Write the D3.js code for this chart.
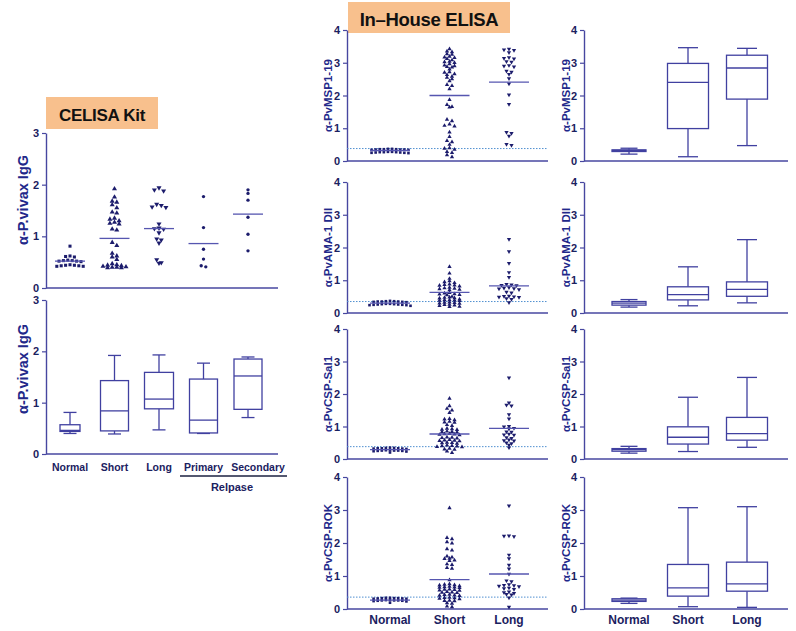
<!DOCTYPE html>
<html><head><meta charset="utf-8">
<script src="https://cdn.jsdelivr.net/npm/d3@7"></script>
<style>body{margin:0;background:#fff}</style></head>
<body><svg id="c" width="796" height="631"></svg>
<script>
// ---------------- DATA ----------------
const celisaGroups = ["Normal","Short","Long","Primary","Secondary"];
const celisaTicks = [0,1,2,3];
const celisaNormal = [0.81,0.62,0.61,0.60,0.54,0.53,0.53,0.52,0.52,0.51,0.45,0.44,0.44,0.43,0.43,0.42,0.42];
const celisaShort = [1.92,1.76,1.68,1.66,1.61,1.55,1.47,1.45,1.35,1.33,1.30,1.27,1.25,1.24,1.14,1.12,0.88,0.82,0.67,0.62,0.60,0.55,0.47,0.45,0.44,0.43,0.42,0.41,0.40,0.40,0.39,0.39];
const celisaLong = [1.94,1.90,1.88,1.62,1.60,1.57,1.56,1.24,1.16,1.15,1.14,1.07,0.95,0.93,0.87,0.55,0.49,0.48];
const celisaPrimary = [1.77,1.17,0.75,0.56,0.43,0.41];
const celisaSecondary = [1.90,1.83,1.70,1.37,1.04,0.72];
const celisaMeans = [0.52,0.96,1.15,0.86,1.43];
// box stats: [min, q1, median, q3, max]
const celisaBox = [
  [0.40,0.44,0.46,0.57,0.81],
  [0.39,0.45,0.84,1.43,1.92],
  [0.47,0.88,1.07,1.59,1.93],
  [0.40,0.41,0.66,1.46,1.77],
  [0.71,0.87,1.52,1.85,1.89]
];

const ihGroups = ["Normal","Short","Long"];
const ihTicks = [0,1,2,3,4];
const ihLabels = ["α-PvMSP1-19","α-PvAMA-1 DII","α-PvCSP-Sal1","α-PvCSP-ROK"];
const ihCutoffs = [0.38,0.35,0.38,0.36];
const ihMeans = [[0.32,2.00,2.41],[0.30,0.63,0.83],[0.29,0.77,0.94],[0.27,0.89,1.06]];

const msp1Normal = [0.37,0.37,0.36,0.36,0.36,0.35,0.35,0.35,0.34,0.34,0.28,0.28,0.27,0.27,0.27,0.26,0.26,0.25,0.25,0.24];
const msp1Short = [3.42,3.35,3.33,3.27,3.25,3.19,3.17,3.15,3.12,3.08,3.04,3.02,3.00,2.96,2.92,2.90,2.88,2.86,2.80,2.72,2.70,2.66,2.63,2.58,2.55,2.50,2.44,2.33,2.30,2.20,1.87,1.72,1.66,1.64,1.27,1.22,1.12,1.08,1.06,0.88,0.74,0.62,0.58,0.50,0.40,0.38,0.35,0.28,0.25,0.18,0.12];
const msp1Long = [3.42,3.40,3.38,3.31,3.16,3.14,3.12,3.04,3.02,2.92,2.90,2.88,2.75,2.72,2.65,2.52,2.36,2.02,1.73,0.88,0.85,0.76,0.51,0.48];

const amaNormal = [0.37,0.36,0.36,0.35,0.35,0.35,0.34,0.34,0.33,0.28,0.28,0.27,0.27,0.26,0.26,0.25,0.25,0.24,0.24,0.22];
const amaShort = [1.41,1.21,1.05,0.98,0.95,0.92,0.88,0.86,0.85,0.84,0.82,0.78,0.76,0.75,0.73,0.72,0.70,0.62,0.60,0.58,0.57,0.56,0.55,0.50,0.48,0.47,0.46,0.45,0.42,0.40,0.40,0.39,0.38,0.37,0.33,0.32,0.31,0.30,0.29,0.26,0.25,0.24,0.22,0.20,0.19];
const amaLong = [2.25,1.88,1.52,1.24,1.09,0.88,0.86,0.85,0.84,0.78,0.76,0.75,0.74,0.72,0.64,0.62,0.52,0.51,0.50,0.49,0.48,0.44,0.42,0.32];

const salNormal = [0.35,0.34,0.34,0.33,0.33,0.33,0.32,0.32,0.31,0.27,0.27,0.26,0.26,0.26,0.25,0.25,0.24,0.23,0.20];
const salShort = [1.86,1.63,1.55,1.50,1.42,1.24,1.22,1.20,1.15,1.13,1.12,1.05,1.02,0.94,0.92,0.91,0.90,0.85,0.84,0.83,0.82,0.78,0.77,0.76,0.75,0.74,0.67,0.66,0.65,0.64,0.59,0.58,0.57,0.56,0.55,0.51,0.50,0.49,0.48,0.42,0.41,0.40,0.39,0.38,0.37,0.32,0.30,0.29,0.24,0.19];
const salLong = [2.50,1.73,1.66,1.64,1.37,1.24,1.01,0.99,0.95,0.93,0.84,0.83,0.77,0.75,0.74,0.66,0.64,0.59,0.57,0.56,0.50,0.48,0.43,0.35];

const rokNormal = [0.34,0.34,0.33,0.33,0.33,0.32,0.32,0.31,0.31,0.27,0.27,0.26,0.26,0.26,0.25,0.25,0.24,0.23,0.19];
const rokShort = [3.06,2.16,2.12,2.03,1.99,1.82,1.78,1.60,1.57,1.53,1.52,1.48,1.46,1.36,1.34,1.25,1.23,0.88,0.76,0.74,0.73,0.72,0.70,0.68,0.67,0.66,0.65,0.64,0.60,0.59,0.58,0.57,0.56,0.52,0.51,0.50,0.49,0.44,0.43,0.42,0.41,0.40,0.35,0.34,0.33,0.32,0.30,0.26,0.25,0.24,0.18,0.17,0.08,0.06];
const rokLong = [3.13,2.22,2.21,2.20,1.64,1.53,1.33,1.22,1.06,0.86,0.83,0.74,0.72,0.71,0.70,0.68,0.64,0.62,0.60,0.52,0.50,0.48,0.45,0.43,0.34,0.06];

const ihBox = [
  [[0.21,0.29,0.32,0.34,0.39],[0.13,0.99,2.40,2.98,3.46],[0.47,1.89,2.84,3.23,3.44]],
  [[0.18,0.24,0.30,0.35,0.41],[0.22,0.40,0.56,0.80,1.41],[0.31,0.51,0.72,0.95,2.24]],
  [[0.18,0.24,0.29,0.32,0.39],[0.23,0.46,0.67,0.99,1.90],[0.36,0.58,0.78,1.28,2.51]],
  [[0.17,0.23,0.27,0.31,0.33],[0.07,0.39,0.64,1.35,3.07],[0.05,0.54,0.76,1.42,3.10]]
];
const ihScatter = [
  [msp1Normal,msp1Short,msp1Long],
  [amaNormal,amaShort,amaLong],
  [salNormal,salShort,salLong],
  [rokNormal,rokShort,rokLong]
];
const celisaScatter = [celisaNormal,celisaShort,celisaLong,celisaPrimary,celisaSecondary];

// ---------------- STYLE ----------------
const AXIS="#4747a0", TXT="#1b2160", MARK="#1c1c6c", MEANC="#5656b0", CUT="#4f8fd0", BOXC="#4040a0";
const FONT="Liberation Sans, Arial, sans-serif";
const svg = d3.select("#c");

function drawYAxis(y, x, ticks, labelText, labelX, fs, labelY) {
  const ax = d3.axisLeft(y).tickValues(ticks).tickSize(4).tickSizeOuter(0).tickPadding(3).tickFormat(d3.format("d"));
  const a = svg.append("g").attr("transform",`translate(${x},0)`).call(ax);
  a.select(".domain").attr("stroke",AXIS).attr("stroke-width",1.4);
  a.selectAll(".tick line").attr("stroke",AXIS).attr("stroke-width",1.2);
  a.selectAll(".tick text").attr("fill",TXT).attr("font-weight","bold").attr("font-size",11).attr("font-family",FONT);
  const r = y.range();
  const cy = labelY !== undefined ? labelY : (r[0]+r[1])/2;
  svg.append("text").attr("transform",`translate(${labelX},${cy}) rotate(-90)`)
    .attr("text-anchor","middle").attr("dominant-baseline","central")
    .attr("fill","#22288a").attr("font-weight","bold").attr("font-size",fs).attr("font-family",FONT)
    .text(labelText);
}
function drawXLine(y, x0, x1) {
  svg.append("line").attr("x1",x0).attr("x2",x1).attr("y1",y(0)).attr("y2",y(0))
    .attr("stroke",AXIS).attr("stroke-width",1.4);
}
// beeswarm layout: values close in y share a row, spread center-out
function swarm(vals, y, cx, dx, tol) {
  const s = vals.slice().sort((a,b)=>b-a);
  const rows = [];
  s.forEach(v => {
    const py = y(v);
    const last = rows[rows.length-1];
    if (last && Math.abs(last.py0 - py) < tol) last.items.push(v);
    else rows.push({py0:py, items:[v]});
  });
  const out = [];
  rows.forEach(r => {
    const n = r.items.length;
    const slots = d3.range(n).map(i => i-(n-1)/2).sort((a,b)=>Math.abs(a)-Math.abs(b) || a-b);
    r.items.forEach((v,i) => out.push({x: cx + slots[i]*dx, y: y(v)}));
  });
  return out;
}
const symTypes = {
  Normal: [d3.symbolSquare,0],
  Short: [d3.symbolTriangle,0],
  Long: [d3.symbolTriangle,180],
  Primary: [d3.symbolCircle,0],
  Secondary: [d3.symbolCircle,0]
};
function drawScatter(groups, data, means, x, y, size, dxs, tol, meanW) {
  groups.forEach((gname,gi) => {
    const pts = swarm(data[gi], y, x(gname), dxs[gi], tol);
    const [type,rot] = symTypes[gname];
    const sz = type===d3.symbolSquare ? size*0.85 : (type===d3.symbolCircle ? size*0.8 : size);
    svg.append("g").selectAll("path").data(pts).join("path")
      .attr("d", d3.symbol().type(type).size(sz))
      .attr("transform", d => `translate(${d.x},${d.y}) rotate(${rot})`)
      .attr("fill", MARK);
    svg.append("line").attr("x1",x(gname)-meanW/2).attr("x2",x(gname)+meanW/2)
      .attr("y1",y(means[gi])).attr("y2",y(means[gi]))
      .attr("stroke",MEANC).attr("stroke-width",1.3);
  });
}
function drawBoxes(groups, stats, x, y, widths, capW) {
  groups.forEach((gname,gi) => {
    const [mn,q1,md,q3,mx] = stats[gi];
    const cx = x(gname), w = widths[gi];
    const g = svg.append("g").attr("stroke",BOXC).attr("stroke-width",1.3).attr("fill","none");
    g.append("line").attr("x1",cx).attr("x2",cx).attr("y1",y(mx)).attr("y2",y(q3));
    g.append("line").attr("x1",cx).attr("x2",cx).attr("y1",y(q1)).attr("y2",y(mn));
    g.append("line").attr("x1",cx-capW[gi]/2).attr("x2",cx+capW[gi]/2).attr("y1",y(mx)).attr("y2",y(mx));
    g.append("line").attr("x1",cx-capW[gi]/2).attr("x2",cx+capW[gi]/2).attr("y1",y(mn)).attr("y2",y(mn));
    g.append("rect").attr("x",cx-w/2).attr("y",y(q3)).attr("width",w).attr("height",y(q1)-y(q3)).attr("fill","#fff");
    g.append("line").attr("x1",cx-w/2).attr("x2",cx+w/2).attr("y1",y(md)).attr("y2",y(md));
  });
}
function catLabels(groups, x, yPos, fs, shifts) {
  svg.append("g").selectAll("text").data(groups).join("text")
    .attr("x", (d,i)=>x(d) + (shifts ? shifts[i] : 0)).attr("y", yPos).attr("text-anchor","middle")
    .attr("fill",TXT).attr("font-weight","bold").attr("font-size",fs).attr("font-family",FONT)
    .text(d=>d);
}
function titleBox(x, y, w, h, text, fs, base) {
  svg.append("rect").attr("x",x).attr("y",y).attr("width",w).attr("height",h).attr("fill","#f8c08d");
  svg.append("text").attr("x",x+w/2).attr("y",base).attr("text-anchor","middle")
    .attr("font-weight","bold").attr("font-size",fs).attr("font-family",FONT).attr("fill","#111")
    .attr("letter-spacing",-0.3).text(text);
}

// ---------------- CELISA ----------------
titleBox(46, 97, 112, 32, "CELISA Kit", 17, 121);
const xc = d3.scalePoint().domain(celisaGroups).range([70, 248]);
const yc1 = d3.scaleLinear().domain([0,3]).range([288, 133]);
drawYAxis(yc1, 46, celisaTicks, "α-P.vivax IgG", 23, 14.5, 200);
drawXLine(yc1, 46, 278);
drawScatter(celisaGroups, celisaScatter, celisaMeans, xc, yc1, 11, [4.4,4.6,4.6,4.6,4.6], 3.2, 30);

const yc2 = d3.scaleLinear().domain([0,3]).range([454, 300]);
drawYAxis(yc2, 46, celisaTicks, "α-P.vivax IgG", 23, 14.5, 369);
drawXLine(yc2, 46, 278);
drawBoxes(celisaGroups, celisaBox, xc, yc2, [20,28,29,28,28], [13,13,13,13,13]);
catLabels(celisaGroups, xc, 471, 10.5, [0,0,0,0,10]);
svg.append("line").attr("x1",180).attr("x2",287).attr("y1",476).attr("y2",476).attr("stroke","#1b2140").attr("stroke-width",1.5);
svg.append("text").attr("x",232).attr("y",491).attr("text-anchor","middle")
  .attr("fill",TXT).attr("font-weight","bold").attr("font-size",11).attr("font-family",FONT).text("Relpase");

// ---------------- IN-HOUSE ----------------
titleBox(348, 2, 162, 31, "In\u2013House ELISA", 18.5, 26);
const ihTop = [30, 182, 329, 477];
const ihBottom = [161, 313, 459, 609];
const xs = d3.scalePoint().domain(ihGroups).range([390, 509]);
const xb = d3.scalePoint().domain(ihGroups).range([629, 747]);
ihLabels.forEach((lab, i) => {
  const y = d3.scaleLinear().domain([0,4]).range([ihBottom[i], ihTop[i]]);
  // scatter
  drawYAxis(y, 347, ihTicks, lab, 328, 11.5);
  drawXLine(y, 347, 548);
  svg.append("line").attr("x1",347).attr("x2",548).attr("y1",y(ihCutoffs[i])).attr("y2",y(ihCutoffs[i]))
    .attr("stroke",CUT).attr("stroke-width",1).attr("stroke-dasharray","1.5,1.5");
  drawScatter(ihGroups, ihScatter[i], ihMeans[i], xs, y, 8, [4.1,5.0,5.0], 2.1, 40);
  // box
  drawYAxis(y, 584, ihTicks, lab, 566, 11.5);
  drawXLine(y, 584, 788);
  drawBoxes(ihGroups, ihBox[i], xb, y, [34,41,41], [17,20,20]);
});
catLabels(ihGroups, xs, 624, 12);
catLabels(ihGroups, xb, 624, 12);
</script></body></html>
